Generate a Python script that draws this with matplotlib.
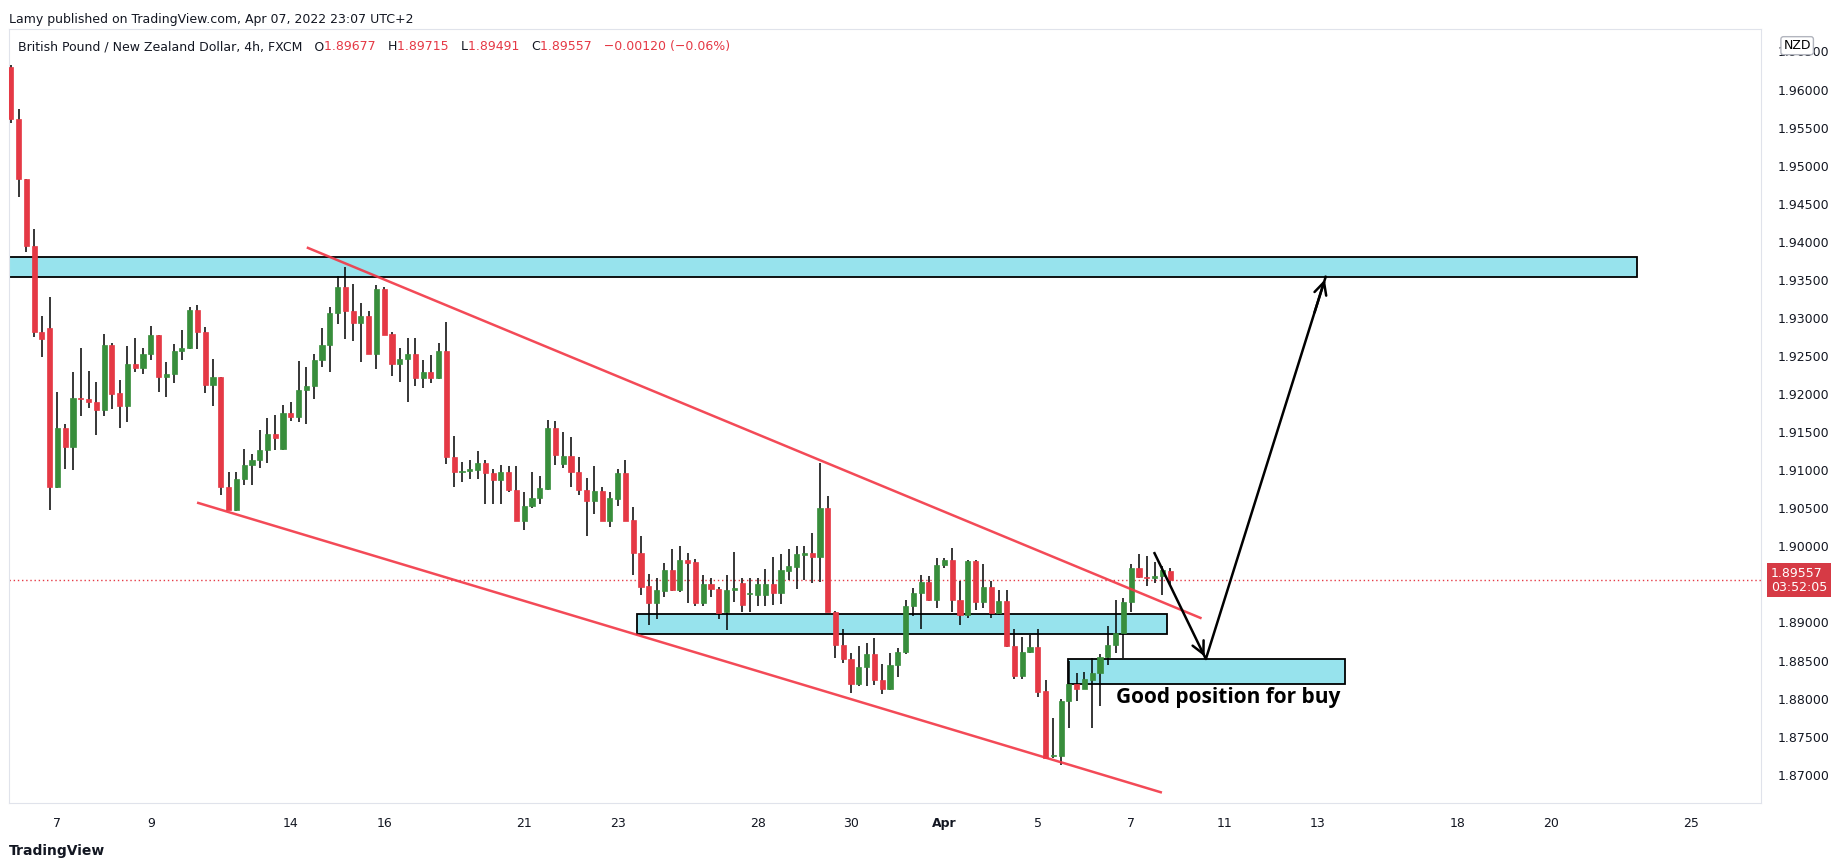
import numpy as np
import matplotlib.pyplot as plt
from matplotlib.patches import Rectangle

# GBP/NZD 4h candles: open, high, low, close
opens = [1.9629, 1.9561, 1.9482, 1.9394, 1.9281, 1.9287, 1.9078, 1.9156, 1.9131, 1.9195,
         1.9194, 1.9189, 1.9179, 1.9264, 1.9201, 1.9184, 1.9239, 1.9234, 1.9252, 1.9278,
         1.9222, 1.9226, 1.9256, 1.9260, 1.9311, 1.9281, 1.9212, 1.9223, 1.9078, 1.9048,
         1.9088, 1.9107, 1.9114, 1.9127, 1.9148, 1.9128, 1.9175, 1.9170, 1.9205, 1.9210,
         1.9245, 1.9265, 1.9307, 1.9341, 1.9309, 1.9294, 1.9303, 1.9253, 1.9338, 1.9279,
         1.9240, 1.9246, 1.9252, 1.9221, 1.9229, 1.9221, 1.9256, 1.9117, 1.9098, 1.9099,
         1.9100, 1.9110, 1.9096, 1.9087, 1.9098, 1.9074, 1.9033, 1.9053, 1.9063, 1.9075,
         1.9155, 1.9108, 1.9119, 1.9098, 1.9074, 1.9059, 1.9073, 1.9033, 1.9062, 1.9096,
         1.9034, 1.8991, 1.8948, 1.8925, 1.8941, 1.8969, 1.8943, 1.8982, 1.8979, 1.8926,
         1.8950, 1.8944, 1.8914, 1.8942, 1.8952, 1.8937, 1.8936, 1.8936, 1.8950, 1.8939,
         1.8968, 1.8973, 1.8989, 1.8991, 1.8986, 1.9051, 1.8914, 1.8870, 1.8852, 1.8819,
         1.8842, 1.8859, 1.8825, 1.8812, 1.8844, 1.8861, 1.8922, 1.8939, 1.8953, 1.8929,
         1.8976, 1.8982, 1.8929, 1.8910, 1.8981, 1.8927, 1.8947, 1.8912, 1.8928, 1.8869,
         1.8830, 1.8861, 1.8868, 1.8810, 1.8724, 1.8724, 1.8797, 1.8819, 1.8812, 1.8825,
         1.8834, 1.8855, 1.8871, 1.8886, 1.8927, 1.8972, 1.8960, 1.8958, 1.8961, 1.89677]
highs = [1.9632, 1.9575, 1.9482, 1.9417, 1.9302, 1.9327, 1.9203, 1.9161, 1.9229, 1.9260,
         1.9230, 1.9216, 1.9279, 1.9267, 1.9219, 1.9263, 1.9273, 1.9260, 1.9289, 1.9278,
         1.9242, 1.9266, 1.9284, 1.9315, 1.9317, 1.9288, 1.9246, 1.9223, 1.9097, 1.9097,
         1.9128, 1.9121, 1.9153, 1.9168, 1.9173, 1.9186, 1.9189, 1.9243, 1.9236, 1.9253,
         1.9287, 1.9315, 1.9355, 1.9367, 1.9345, 1.9320, 1.9309, 1.9343, 1.9341, 1.9282,
         1.9261, 1.9273, 1.9274, 1.9245, 1.9251, 1.9267, 1.9295, 1.9145, 1.9111, 1.9114,
         1.9125, 1.9113, 1.9102, 1.9107, 1.9105, 1.9106, 1.9072, 1.9098, 1.9093, 1.9166,
         1.9164, 1.9150, 1.9143, 1.9117, 1.9090, 1.9105, 1.9078, 1.9071, 1.9101, 1.9114,
         1.9052, 1.9013, 1.8964, 1.8958, 1.8978, 1.8997, 1.9001, 1.8991, 1.8984, 1.8963,
         1.8958, 1.8947, 1.8963, 1.8993, 1.8958, 1.8958, 1.8958, 1.8970, 1.8986, 1.8990,
         1.8996, 1.9001, 1.9001, 1.9018, 1.9109, 1.9066, 1.8915, 1.8891, 1.8860, 1.8869,
         1.8873, 1.8879, 1.8845, 1.8860, 1.8866, 1.8930, 1.8945, 1.8962, 1.8961, 1.8985,
         1.8985, 1.8998, 1.8954, 1.8982, 1.8982, 1.8977, 1.8954, 1.8943, 1.8943, 1.8891,
         1.8881, 1.8883, 1.8892, 1.8824, 1.8774, 1.8799, 1.8850, 1.8833, 1.8835, 1.8853,
         1.8859, 1.8896, 1.8930, 1.8932, 1.8977, 1.8990, 1.8987, 1.8980, 1.8974, 1.89715]
lows = [1.9556, 1.9459, 1.9387, 1.9275, 1.9249, 1.9048, 1.9077, 1.9102, 1.9100, 1.9171,
        1.9182, 1.9146, 1.9171, 1.9180, 1.9155, 1.9163, 1.9229, 1.9226, 1.9245, 1.9203,
        1.9196, 1.9215, 1.9245, 1.9259, 1.9259, 1.9201, 1.9184, 1.9068, 1.9048, 1.9046,
        1.9080, 1.9081, 1.9103, 1.9109, 1.9127, 1.9127, 1.9164, 1.9163, 1.9161, 1.9193,
        1.9235, 1.9229, 1.9292, 1.9272, 1.9270, 1.9242, 1.9253, 1.9233, 1.9278, 1.9224,
        1.9216, 1.9189, 1.9210, 1.9208, 1.9215, 1.9220, 1.9108, 1.9078, 1.9085, 1.9088,
        1.9088, 1.9056, 1.9056, 1.9055, 1.9071, 1.9033, 1.9022, 1.9050, 1.9056, 1.9074,
        1.9107, 1.9103, 1.9078, 1.9068, 1.9013, 1.9042, 1.9033, 1.9026, 1.9053, 1.9033,
        1.8963, 1.8936, 1.8897, 1.8905, 1.8934, 1.8941, 1.8940, 1.8926, 1.8921, 1.8921,
        1.8933, 1.8905, 1.8890, 1.8927, 1.8914, 1.8914, 1.8921, 1.8922, 1.8923, 1.8924,
        1.8956, 1.8944, 1.8956, 1.8952, 1.8953, 1.8914, 1.8853, 1.8847, 1.8807, 1.8816,
        1.8817, 1.8818, 1.8806, 1.8811, 1.8828, 1.8859, 1.8908, 1.8891, 1.8928, 1.8919,
        1.8972, 1.8914, 1.8897, 1.8906, 1.8917, 1.8919, 1.8906, 1.8910, 1.8868, 1.8826,
        1.8826, 1.8860, 1.8802, 1.8722, 1.8722, 1.8713, 1.8761, 1.8797, 1.8812, 1.8762,
        1.8790, 1.8844, 1.8860, 1.8853, 1.8914, 1.8959, 1.8948, 1.8952, 1.8936, 1.89491]
closes = [1.9561, 1.9482, 1.9394, 1.9281, 1.9272, 1.9078, 1.9156, 1.9131, 1.9195, 1.9193,
          1.9189, 1.9179, 1.9264, 1.9200, 1.9184, 1.9239, 1.9234, 1.9252, 1.9278, 1.9222,
          1.9227, 1.9256, 1.9260, 1.9311, 1.9281, 1.9212, 1.9223, 1.9078, 1.9048, 1.9088,
          1.9107, 1.9114, 1.9127, 1.9148, 1.9142, 1.9175, 1.9170, 1.9205, 1.9211, 1.9245,
          1.9265, 1.9307, 1.9341, 1.9309, 1.9294, 1.9303, 1.9253, 1.9338, 1.9278, 1.9240,
          1.9246, 1.9252, 1.9221, 1.9229, 1.9221, 1.9256, 1.9118, 1.9097, 1.9099, 1.9101,
          1.9110, 1.9096, 1.9087, 1.9098, 1.9074, 1.9033, 1.9053, 1.9064, 1.9076, 1.9155,
          1.9120, 1.9119, 1.9097, 1.9074, 1.9059, 1.9073, 1.9033, 1.9063, 1.9096, 1.9033,
          1.8991, 1.8947, 1.8925, 1.8942, 1.8969, 1.8943, 1.8982, 1.8978, 1.8926, 1.8950,
          1.8944, 1.8913, 1.8943, 1.8945, 1.8923, 1.8939, 1.8950, 1.8950, 1.8939, 1.8969,
          1.8974, 1.8990, 1.8991, 1.8986, 1.9051, 1.8914, 1.8870, 1.8852, 1.8819, 1.8842,
          1.8859, 1.8825, 1.8812, 1.8844, 1.8861, 1.8922, 1.8939, 1.8953, 1.8929, 1.8976,
          1.8982, 1.8929, 1.8910, 1.8981, 1.8927, 1.8947, 1.8912, 1.8928, 1.8869, 1.8830,
          1.8861, 1.8868, 1.8809, 1.8722, 1.8726, 1.8797, 1.8819, 1.8812, 1.8826, 1.8834,
          1.8855, 1.8871, 1.8886, 1.8927, 1.8972, 1.8960, 1.8958, 1.8961, 1.8969, 1.89557]

# date labels (bar index -> label)
tick_bars = [6, 18, 36, 48, 66, 78, 96, 108, 120, 132, 144, 156, 168, 186, 198, 216]
tick_labels = ["7", "9", "14", "16", "21", "23", "28", "30", "Apr", "5", "7", "11", "13", "18", "20", "25"]
# price labels (1.89500 sits under the last-price tag)
price_ticks = [1.870, 1.875, 1.880, 1.885, 1.890, 1.900, 1.905, 1.910, 1.915, 1.920,
               1.925, 1.930, 1.935, 1.940, 1.945, 1.950, 1.955, 1.960, 1.965]

# drawings (bar index, price)
zone_top = (-0.4, 209.0, 1.9354, 1.9380)
zone_mid = (80.5, 148.6, 1.8885, 1.8911)
zone_low = (135.9, 171.5, 1.8819, 1.8852)
upper_line = ([38.2, 152.9], [1.9392, 1.8906])
lower_line = ([24.1, 147.8], [1.9057, 1.8677])
path_x = [147.0, 153.6, 169.0]
path_y = [1.8991, 1.8852, 1.9354]
last_price = 1.89557

UP = "#388e3c"
DOWN = "#e53945"
ZONE = "#97e3ed"
TREND = "#f23645"
INK = "#131722"
YLO, YHI = 1.8663, 1.968

fig = plt.figure(figsize=(18.34, 8.68), dpi=100)
ax = fig.add_axes([0.005, 0.075, 0.955, 0.892])

x = np.arange(len(closes))
for i in x:
    o, h, l, c = opens[i], highs[i], lows[i], closes[i]
    col = UP if c >= o else DOWN
    ax.vlines(i, l, h, color="black", lw=1.1, zorder=3)
    bot = min(o, c)
    hgt = max(abs(c - o), 0.00012)
    ax.add_patch(Rectangle((i - 0.33, bot), 0.66, hgt, facecolor=col, edgecolor=col, lw=0.5, zorder=4))

for x0, x1, y0, y1 in [zone_top, zone_mid, zone_low]:
    ax.add_patch(Rectangle((x0, y0), x1 - x0, y1 - y0, facecolor=ZONE, edgecolor="black", lw=1.3, zorder=2))

ax.plot(*upper_line, color=TREND, lw=1.8, zorder=5, alpha=0.9)
ax.plot(*lower_line, color=TREND, lw=1.8, zorder=5, alpha=0.9)

ax.plot(path_x, path_y, color="black", lw=1.8, zorder=6)
for k in (1, 2):
    ax.annotate("", xy=(path_x[k], path_y[k]),
                xytext=(path_x[k - 1] + (path_x[k] - path_x[k - 1]) * 0.9,
                        path_y[k - 1] + (path_y[k] - path_y[k - 1]) * 0.9),
                arrowprops=dict(arrowstyle="->", color="black", lw=1.8, mutation_scale=22), zorder=6)
ax.text(156.5, 1.8801, "Good position for buy", fontsize=15, fontweight="bold", ha="center", va="center",
        family="Open Sans", zorder=7)

ax.axhline(last_price, color=DOWN, lw=1, ls=(0, (1, 2)), zorder=1)

ax.set_xlim(-0.2, 224.9)
ax.set_ylim(YLO, YHI)
ax.yaxis.tick_right()
ax.set_yticks(price_ticks)
ax.yaxis.set_major_formatter(plt.FuncFormatter(lambda v, p: f"{v:.5f}"))
ax.set_xticks(tick_bars)
ax.set_xticklabels(tick_labels)
for lab in ax.get_xticklabels():
    if lab.get_text() == "Apr":
        lab.set_fontweight("bold")
ax.tick_params(length=0, labelsize=9, colors=INK, pad=10)
ax.tick_params(axis="y", pad=12)
for s in ax.spines.values():
    s.set_color("#e0e3eb")

# price label on axis
ax.text(1.006, (last_price - YLO) / (YHI - YLO), "1.89557\n03:52:05", transform=ax.transAxes,
        color="white", fontsize=9, va="center", ha="left", linespacing=1.1,
        bbox=dict(boxstyle="square,pad=0.3", facecolor="#d63a45", edgecolor="none"), clip_on=False, zorder=10)
ax.text(1.013, 0.978, "NZD", transform=ax.transAxes, fontsize=9, va="center", ha="left",
        bbox=dict(boxstyle="round,pad=0.2", facecolor="white", edgecolor="#b2b5be"), zorder=10)

# legend line: chain pieces one after another
renderer = fig.canvas.get_renderer()
pieces = [("British Pound / New Zealand Dollar, 4h, FXCM   O", INK), ("1.89677   ", DOWN), ("H", INK),
          ("1.89715   ", DOWN), ("L", INK), ("1.89491   ", DOWN), ("C", INK),
          ("1.89557   \u22120.00120 (\u22120.06%)", DOWN)]
px, py = ax.transAxes.transform((0.005, 0.985))
for txt, col in pieces:
    t = fig.text(px / fig.bbox.width, py / fig.bbox.height, txt, fontsize=9, va="top", color=col)
    px = t.get_window_extent(renderer).x1

fig.text(0.005, 0.985, "Lamy published on TradingView.com, Apr 07, 2022 23:07 UTC+2", fontsize=9,
         va="top", color=INK)
fig.text(0.005, 0.012, "TradingView", fontsize=10, fontweight="bold", va="bottom", color=INK)

fig.savefig("out.png", dpi=100)
